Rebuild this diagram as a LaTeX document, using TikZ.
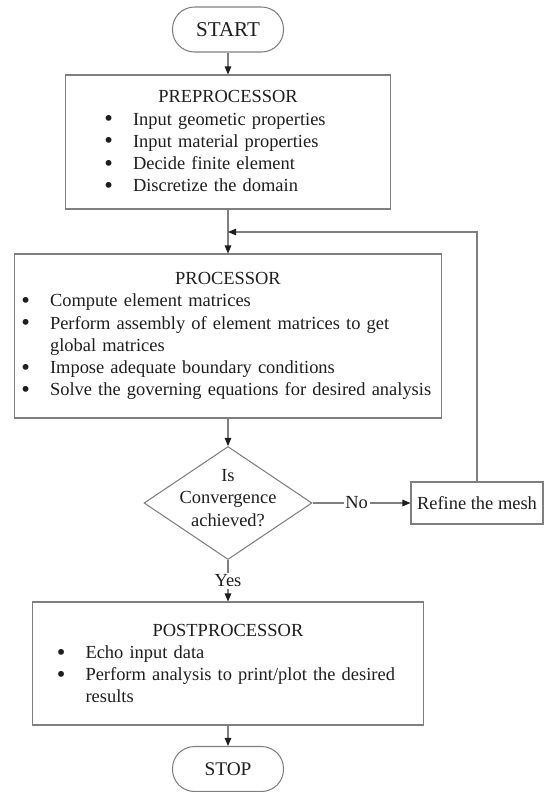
\documentclass[tikz,border=0pt]{standalone}
\usepackage{fontspec}
\setmainfont{Liberation Serif}
\usepackage{tikz}
\usetikzlibrary{arrows.meta, positioning, shapes.geometric}
\definecolor{edgegray}{HTML}{7F7F7F}
\definecolor{inkdark}{HTML}{1E1E1E}
\newcommand{\bigdot}{\raisebox{-0.2ex}{\fontsize{14}{12}\selectfont\textbullet}}
\newenvironment{stagelist}[1]{%
  \begin{list}{\bigdot}{\setlength{\leftmargin}{#1}\setlength{\labelsep}{0.4cm}%
    \setlength{\topsep}{0pt}\setlength{\partopsep}{0pt}\setlength{\itemsep}{0pt}\setlength{\parsep}{0pt}}\raggedright}%
  {\end{list}}

\begin{document}
\begin{tikzpicture}[
  x=0.02cm, y=-0.02cm,
  stage/.style={draw=edgegray, line width=0.6pt, text=inkdark, inner xsep=0pt, font=\fontsize{10.5}{12.6}\selectfont},
  term/.style={draw=edgegray, line width=0.6pt, rounded corners=0.44cm, minimum width=2.22cm, minimum height=0.9cm, text=inkdark},
  check/.style={diamond, draw=edgegray, line width=0.6pt, minimum width=3.36cm, minimum height=2.26cm, inner sep=0pt},
  plain/.style={draw=edgegray, line width=0.6pt, minimum width=2.64cm, minimum height=0.84cm, text=inkdark, font=\fontsize{10.5}{12.6}\selectfont},
  lbl/.style={fill=white, inner sep=1pt, text=inkdark, font=\fontsize{10.5}{12.6}\selectfont},
  flow/.style={draw=edgegray, line width=0.6pt, -{Triangle[length=0.16cm, width=0.13cm, color=inkdark]}}
]
\useasboundingbox (0,0) rectangle (551,792);

\node[term, font=\fontsize{12}{14}\selectfont] (start) at (228,29.5) {START};
\node[stage, text width=6.52cm, minimum height=2.68cm] (pre) at (228,142) {%
  {\centering PREPROCESSOR\par}
  \begin{stagelist}{1.36cm}
  \item Input geometic properties
  \item Input material properties
  \item Decide finite element
  \item Discretize the domain
  \end{stagelist}};
\node[stage, text width=8.56cm, minimum height=3.28cm] (proc) at (228,336) {%
  {\centering PROCESSOR\par}
  \begin{stagelist}{0.72cm}
  \item Compute element matrices
  \item Perform assembly of element matrices to get\newline global matrices
  \item Impose adequate boundary conditions
  \item Solve the governing equations for desired analysis
  \end{stagelist}};
\node[check] (conv) at (228,503) {};
\node[align=center, text=inkdark, font=\fontsize{10.5}{12.8}\selectfont] (convq) at (228,498) {Is\\Convergence\\achieved?};
\node[plain] (refine) at (477,503) {Refine the mesh};
\node[stage, text width=7.82cm, minimum height=2.46cm] (post) at (228,663.5) {%
  {\centering POSTPROCESSOR\par}
  \begin{stagelist}{1.06cm}
  \item Echo input data
  \item Perform analysis to print/plot the desired\newline results
  \end{stagelist}};
\node[term, font=\fontsize{11}{13}\selectfont] (stop) at (228,769) {STOP};
\coordinate (merge) at (228,232);

\draw[flow] (start) -- (pre);
\draw[flow] (pre) -- (proc);
\draw[flow] (refine.north) |- (merge);
\draw[flow] (proc) -- (conv);
\draw[flow] (conv) -- node[lbl, pos=0.45]{No} (refine);
\draw[flow] (conv) -- node[lbl]{Yes} (post);
\draw[flow] (post) -- (stop);
\end{tikzpicture}
\end{document}
